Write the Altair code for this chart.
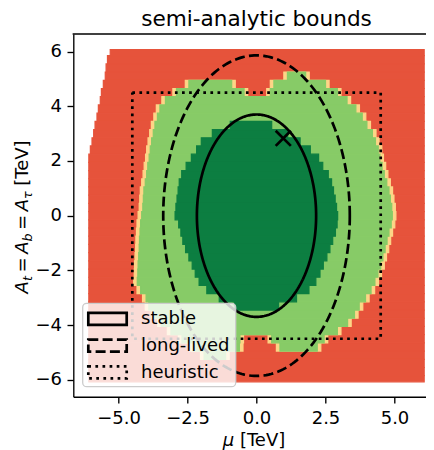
import altair as alt
import numpy as np
import pandas as pd

# ---------------- values ----------------
# rows of the region map (y centre of each 0.3 TeV band)
row_y = [6.0, 5.7, 5.4, 5.1, 4.8, 4.5, 4.2, 3.9, 3.6, 3.3, 3.0, 2.7, 2.4, 2.1, 1.8, 1.5, 1.2, 0.9, 0.6, 0.3, 0.0,
         -0.3, -0.6, -0.9, -1.2, -1.5, -1.8, -2.1, -2.4, -2.7, -3.0, -3.3, -3.6, -3.9, -4.2, -4.5, -4.8, -5.1,
         -5.4, -5.7, -6.0]
# left end of the red (scanned) area in each row; right end is red_right
red_left = [-5.30, -5.40, -5.45, -5.48, -5.55, -5.62, -5.66, -5.73, -5.78, -5.85, -5.90, -5.96, -6.02,
            -6.075, -6.075, -6.075, -6.075, -6.075, -6.075, -6.075, -6.075, -6.075, -6.075, -6.075, -6.075,
            -6.075, -6.075, -6.075, -6.075, -6.075, -6.075, -6.075, -6.075, -6.075, -6.075, -6.075, -6.075,
            -6.075, -6.075, -6.075, -6.075]
red_right = 6.075
# light-green run(s) per row
green_l = [None, None, None, 1.12, -2.45, -2.90, -3.30, -3.50, -3.59, -3.68, -3.74, -3.80, -3.85, -3.89,
           -3.94, -3.98, -4.03, -4.08, -4.10, -4.12, -4.16, -4.20, -4.22, -4.24, -4.25, -4.27, -4.29, -4.30,
           -4.32, -4.20, -4.00, -3.90, -3.68, -3.45, -3.10, -2.70, -2.30, -1.90, None, None, None]
green_r = [None, None, None, 1.78, -0.90, -0.45, 3.28, 3.60, 3.83, 4.00, 4.20, 4.31, 4.41, 4.47,
           4.55, 4.63, 4.72, 4.80, 4.85, 4.90, 4.92, 4.88, 4.80, 4.73, 4.66, 4.58, 4.50, 4.40,
           4.29, 4.15, 3.95, 3.72, 3.55, 3.30, 2.93, -0.60, -0.62, -1.12, None, None, None]
green2_l = [None, None, None, None, 0.63, 0.50] + [None] * 29 + [0.55, 0.85, None, None, None, None]
green2_r = [None, None, None, None, 2.50, 2.93] + [None] * 29 + [2.45, 2.20, None, None, None, None]
# dark-green run per row
dark_l = [None] * 9 + [-0.95, -1.60, -2.00, -2.17, -2.36, -2.55, -2.71, -2.80, -2.84, -2.88, -2.92, -2.95,
                       -2.82, -2.74, -2.67, -2.57, -2.45, -2.33, -2.22, -2.08, -1.80, -1.35, -0.80] + [None] * 9
dark_r = [None] * 9 + [0.55, 1.13, 1.58, 1.95, 2.25, 2.40, 2.60, 2.72, 2.79, 2.85, 2.90, 2.94,
                       2.92, 2.86, 2.76, 2.66, 2.55, 2.42, 2.30, 2.15, 1.90, 1.45, 0.80] + [None] * 9
ring = 0.13                      # pale edge cells around the light-green area
row_half = 0.15
grid_lo, grid_hi = -6.075, 6.075

region_names = ["excluded", "edge", "long-lived", "stable"]
region_colors = ["#e6533b", "#fdd587", "#87cb67", "#0c7e41"]

bound_names = ["stable", "long-lived", "heuristic"]
ellipse_names = ["stable", "long-lived"]
ellipse_cx = [0.0, 0.0]
ellipse_cy = [0.0, 0.0]
ellipse_ax = [2.16, 3.38]
ellipse_ay = [3.70, 5.86]
box_x = [-4.5, 4.5, 4.5, -4.5, -4.5]
box_y = [4.5, 4.5, -4.5, -4.5, 4.5]
marker_x = [0.97]
marker_y = [2.83]

# ---------------- tables ----------------
recs = []
def add(cls, a, b, i):
    y = row_y[i]
    recs.append({"cls": cls, "x1": a, "x2": b,
                 "y1": max(y - row_half, grid_lo), "y2": min(y + row_half, grid_hi)})

for i in range(len(row_y)):
    add("excluded", red_left[i], red_right, i)
for i in range(len(row_y)):
    for L, R in ((green_l, green_r), (green2_l, green2_r)):
        if L[i] is not None:
            add("edge", L[i] - ring, R[i] + ring, i)
for i in range(len(row_y)):
    for L, R in ((green_l, green_r), (green2_l, green2_r)):
        if L[i] is not None:
            add("long-lived", L[i], R[i], i)
for i in range(len(row_y)):
    if dark_l[i] is not None:
        add("stable", dark_l[i], dark_r[i], i)
rdf = pd.DataFrame(recs)

lrows = []
t = np.linspace(0, 2 * np.pi, 241)
for k, name in enumerate(ellipse_names):
    for j, tt in enumerate(t):
        lrows.append({"kind": name, "ord": j,
                      "x": ellipse_cx[k] + ellipse_ax[k] * np.cos(tt),
                      "y": ellipse_cy[k] + ellipse_ay[k] * np.sin(tt)})
for j, (bx, by) in enumerate(zip(box_x, box_y)):
    lrows.append({"kind": "heuristic", "ord": j, "x": bx, "y": by})
ldf = pd.DataFrame(lrows)
mdf = pd.DataFrame({"x": marker_x, "y": marker_y})

# ---------------- chart ----------------
W, H = 352.7, 362.7
X0, X1, Y0, Y1 = -6.638, 6.141, -6.618, 6.643
FONT = "DejaVu Sans"
FS, SS = 18, 12.6
LW = 2.7
xs = alt.Scale(domain=[X0, X1], nice=False, zero=False)
ys = alt.Scale(domain=[Y0, Y1], nice=False, zero=False)
xa = alt.Axis(values=[-5, -2.5, 0, 2.5, 5], format=".1f", title=None, grid=False, labelPadding=6.6)
ya = alt.Axis(values=[-6, -4, -2, 0, 2, 4, 6], format="d", title=None, grid=False, labelPadding=5.5)
cscale = alt.Scale(domain=region_names, range=region_colors)
DASH = {"stable": [1, 0], "long-lived": [10, 4.3], "heuristic": [2.7, 4.4]}
one = pd.DataFrame({"a": [0]})

rects = alt.Chart(rdf).mark_rect(strokeWidth=1.2).encode(
    x=alt.X("x1:Q", scale=xs, axis=xa), x2="x2:Q",
    y=alt.Y("y1:Q", scale=ys, axis=ya), y2="y2:Q",
    color=alt.Color("cls:N", scale=cscale, legend=None),
    stroke=alt.Stroke("cls:N", scale=cscale, legend=None),
)

lines = alt.Chart(ldf).mark_line(color="black", strokeWidth=LW, strokeCap="butt").encode(
    x=alt.X("x:Q", scale=xs, axis=xa), y=alt.Y("y:Q", scale=ys, axis=ya),
    detail="kind:N", order="ord:Q",
    strokeDash=alt.StrokeDash("kind:N", scale=alt.Scale(domain=bound_names,
                              range=[DASH[k] for k in bound_names]), legend=None),
)

marker = alt.Chart(mdf).mark_point(shape="M-1,-1L1,1M1,-1L-1,1", filled=False, color="black",
                                   strokeWidth=LW, size=230, opacity=1).encode(
    x=alt.X("x:Q", scale=xs, axis=xa), y=alt.Y("y:Q", scale=ys, axis=ya))

# top spine of the axes frame
top = alt.Chart(one).mark_rect(color="black").encode(
    x=alt.value(-0.67), x2=alt.value(W), y=alt.value(-0.67), y2=alt.value(0.67))

# legend (matplotlib style: boxed patches)
LEG = [alt.Chart(one).mark_rect(fill="white", fillOpacity=0.8, stroke="#cccccc", strokeWidth=1.3,
                                cornerRadius=4).encode(
    x=alt.value(9.4), x2=alt.value(162.4), y=alt.value(269.3), y2=alt.value(352.7))]
for k, (name, cy) in enumerate(zip(bound_names, [284.8, 311.6, 338.4])):
    LEG.append(alt.Chart(one).mark_rect(filled=False, stroke="black", strokeWidth=LW,
                                        strokeDash=DASH[name]).encode(
        x=alt.value(15), x2=alt.value(53.4), y=alt.value(cy - 6), y2=alt.value(cy + 6)))
    LEG.append(alt.Chart(pd.DataFrame({"t": [name]})).mark_text(
        align="left", baseline="alphabetic", font=FONT, fontSize=FS, color="black").encode(
        x=alt.value(67.7), y=alt.value(cy + 5.4), text="t:N"))

# axis titles with math-style pieces
EM = {"A": 0.684, "t": 0.392, "=": 0.838, "b": 0.635, "τ": 0.594, "[": 0.390, "]": 0.390,
      "T": 0.611, "e": 0.615, "V": 0.684, "μ": 0.636, " ": 0.318}
def width(s, size):
    return sum(EM.get(c, 0.6) for c in s) * size

# (text, italic, size, gap_before_em, shift)
ypieces = [("A", True, FS, 0, 0), ("t", True, SS, 0, 3.8), ("=", False, FS, 0.2, 0),
           ("A", True, FS, 0.2, 0), ("b", True, SS, 0, 3.8), ("=", False, FS, 0.2, 0),
           ("A", True, FS, 0.2, 0), ("τ", True, SS, 0, 3.8), ("[TeV]", False, FS, 0.318, 0)]
xpieces = [("μ", True, FS, 0, 0), ("[TeV]", False, FS, 0.318, 0)]

def layout(pieces):
    pos, cur = [], 0.0
    for s, it, sz, gap, sh in pieces:
        cur += gap * FS
        pos.append(cur)
        cur += width(s, sz)
    return pos, cur

texts = []
ypos, ytot = layout(ypieces)
ycen, ybase = 181.35, -45.5
for (s, it, sz, gap, sh), p in zip(ypieces, ypos):
    texts.append(alt.Chart(pd.DataFrame({"t": [s]})).mark_text(
        angle=270, align="left", baseline="alphabetic", font=FONT, fontSize=sz,
        fontStyle="italic" if it else "normal", color="black").encode(
        x=alt.value(ybase + sh), y=alt.value(ycen + ytot / 2 - p), text="t:N"))
xpos, xtot = layout(xpieces)
xcen, xbase = 182.2, 412
for (s, it, sz, gap, sh), p in zip(xpieces, xpos):
    texts.append(alt.Chart(pd.DataFrame({"t": [s]})).mark_text(
        align="left", baseline="alphabetic", font=FONT, fontSize=sz,
        fontStyle="italic" if it else "normal", color="black").encode(
        x=alt.value(xcen - xtot / 2 + p), y=alt.value(xbase + sh), text="t:N"))
texts.append(alt.Chart(pd.DataFrame({"t": ["semi-analytic bounds"]})).mark_text(
    align="center", baseline="alphabetic", font=FONT, fontSize=21.6, color="black").encode(
    x=alt.value(183.2), y=alt.value(-8.5), text="t:N"))

chart = alt.layer(rects, lines, marker, top, *LEG, *texts).properties(
    width=W, height=H,
    padding={"left": 65.3, "top": 26, "right": 0, "bottom": 53.3},
    autosize=alt.AutoSizeParams(type="none"),
).configure_view(stroke=None).configure_axis(
    labelFont=FONT, labelFontSize=FS, labelColor="black", tickColor="black", tickSize=6.3,
    tickWidth=1.35, domainColor="black", domainWidth=1.35,
)

chart.save("out.html", embed_options={"renderer": "svg", "actions": False})
